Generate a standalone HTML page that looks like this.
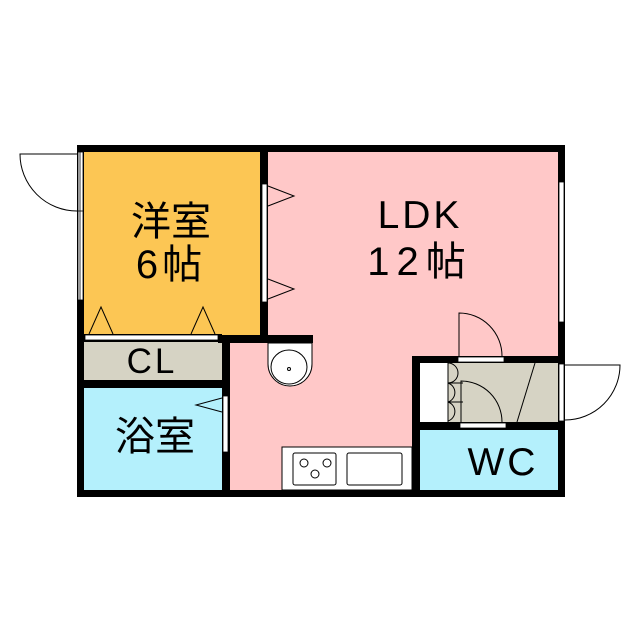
<!DOCTYPE html>
<html><head><meta charset="utf-8"><style>html,body{margin:0;padding:0;background:#fff}svg{display:block}</style></head><body>
<svg width="640" height="640" viewBox="0 0 640 640" xmlns="http://www.w3.org/2000/svg" font-family="Liberation Sans, Noto Sans CJK JP, sans-serif">
<rect width="640" height="640" fill="#fff"/>
<rect x="84" y="152" width="178" height="184" fill="#fcc654"/>
<rect x="268" y="152" width="290" height="338" fill="#ffc8c8"/>
<rect x="222" y="336" width="50" height="154" fill="#ffc8c8"/>
<rect x="84" y="342" width="138" height="38" fill="#d6d3c4"/>
<rect x="84" y="388" width="138" height="102" fill="#b4f0fc"/>
<rect x="420" y="363" width="138" height="59" fill="#fff"/>
<rect x="448" y="363" width="110" height="59" fill="#d6d3c4"/>
<rect x="420" y="430" width="138" height="60" fill="#b4f0fc"/>
<g fill="#000">
<rect x="77" y="145" width="488" height="7"/>
<rect x="77" y="490" width="488" height="7"/>
<rect x="77" y="145" width="7" height="352"/>
<rect x="558" y="145" width="7" height="220"/>
<rect x="558" y="356" width="7" height="141"/>
<rect x="260" y="145" width="8" height="198"/>
<rect x="218" y="335" width="95" height="8"/>
<rect x="222" y="335" width="8" height="162"/>
<rect x="77" y="334" width="145" height="8"/>
<rect x="77" y="380" width="153" height="8"/>
<rect x="412" y="356" width="153" height="7"/>
<rect x="412" y="356" width="8" height="141"/>
<rect x="412" y="422" width="153" height="8"/>
</g>
<g fill="#fff" stroke="#000" stroke-width="0.8">
<rect x="78" y="152" width="5" height="148"/>
<rect x="262" y="184" width="5" height="118"/>
<rect x="559" y="182" width="5" height="140"/>
<rect x="85" y="335" width="133" height="5"/>
<rect x="223" y="396" width="5" height="56"/>
<rect x="458" y="357" width="46" height="5"/>
<rect x="460" y="423" width="46" height="5"/>
<rect x="559" y="364" width="5" height="57"/>
</g>
<line x1="80" y1="152" x2="80" y2="300" stroke="#000" stroke-width="0.8"/>
<line x1="78" y1="211" x2="83" y2="211" stroke="#000" stroke-width="0.8"/>
<g fill="none" stroke="#000" stroke-width="1">
<path d="M77 154 H20 A57 57 0 0 0 77 211"/>
<path d="M565 365 H620 A55 55 0 0 1 565 420"/>
<path d="M459 356 V313 A43 43 0 0 1 502 356"/>
<path d="M461 422 V381 A41 41 0 0 1 502 422"/>
<path d="M517 422 L535 363"/>
<line x1="448" y1="363" x2="448" y2="422"/>
<path d="M448 363 A10 10 0 0 1 448 383 M448 383 A10 10 0 0 1 448 402 M448 402 A10 10 0 0 1 448 421"/>
<path d="M448 383 H463 M448 402 H463"/>
<path d="M89 334 L101 307 L113 334"/>
<path d="M191 334 L203 307 L215 334"/>
<path d="M268 186 L294 196 L268 206"/>
<path d="M268 279 L294 289 L268 299"/>
<path d="M222 398 L196 405 L222 412"/>
<path d="M268 343 V364 A22 22 0 0 0 312 364 V343 Z" fill="#fff"/>
<ellipse cx="289" cy="367" rx="18" ry="17"/>
<circle cx="289" cy="369" r="1.5"/>
<rect x="282" y="447" width="130" height="43" fill="#fff"/>
<rect x="293" y="453" width="43" height="32" rx="2"/>
<rect x="347" y="453" width="55" height="32" rx="2"/>
<circle cx="304" cy="463" r="4"/><circle cx="327" cy="463" r="4"/><circle cx="315" cy="474" r="4"/>
</g>
<g fill="#000" text-anchor="middle">
<text x="171" y="235" font-size="40">洋室</text>
<text x="171" y="278" font-size="40" letter-spacing="4">6帖</text>
<text x="420" y="228" font-size="39" letter-spacing="3">LDK</text>
<text x="420" y="275" font-size="40" letter-spacing="7">12帖</text>
<text x="152" y="373" font-size="35" letter-spacing="3">CL</text>
<text x="155" y="450" font-size="40">浴室</text>
<text x="503" y="475" font-size="39" letter-spacing="3">WC</text>
</g>
</svg>
</body></html>
